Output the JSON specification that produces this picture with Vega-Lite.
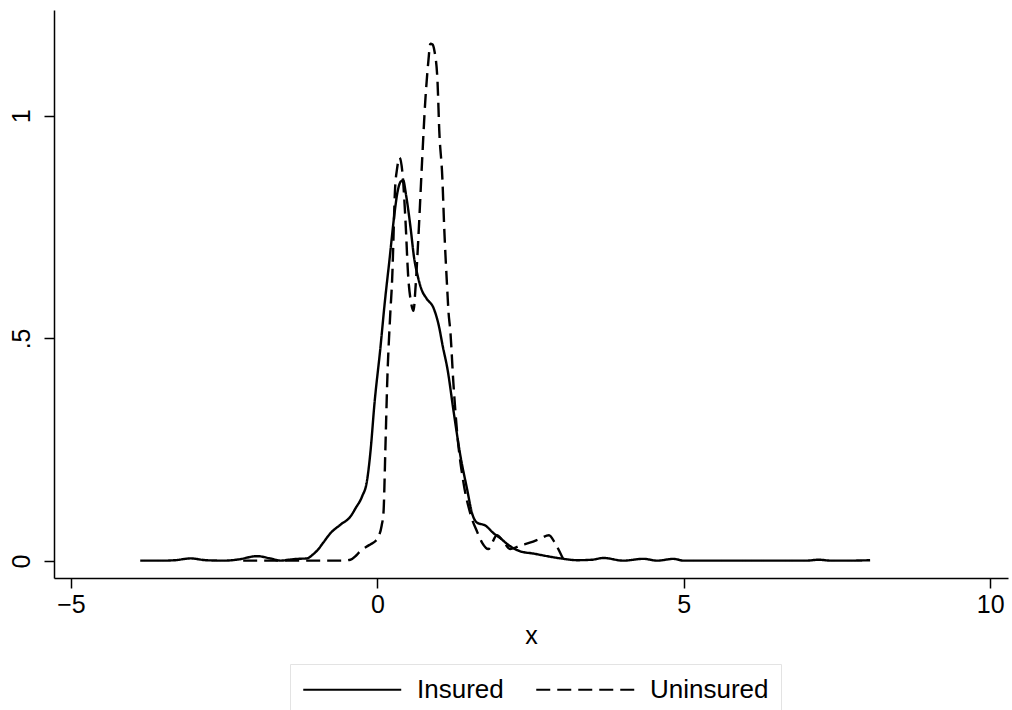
{
  "$schema": "https://vega.github.io/schema/vega-lite/v6.json",
  "width": 954,
  "height": 568,
  "autosize": {"type": "none"},
  "padding": {"left": 54, "top": 10, "right": 4, "bottom": 132},
  "background": "white",
  "config": {
    "view": {"stroke": null},
    "font": "Liberation Sans",
    "axis": {
      "grid": false,
      "domainColor": "black",
      "domainWidth": 1.5,
      "tickColor": "black",
      "tickWidth": 1.5,
      "tickSize": 10,
      "labelColor": "black",
      "labelFont": "Liberation Sans",
      "labelFontSize": 25,
      "titleFont": "Liberation Sans",
      "titleFontSize": 25,
      "titleFontWeight": "normal",
      "titleColor": "black"
    },
    "legend": {
      "labelFont": "Liberation Sans",
      "labelFontSize": 26,
      "labelColor": "black"
    }
  },
  "data": {
    "values": [
      {"x": -3.87, "y": 0.001, "group": "Insured"},
      {"x": -3.5, "y": 0.001, "group": "Insured"},
      {"x": -3.3, "y": 0.002, "group": "Insured"},
      {"x": -3.05, "y": 0.006, "group": "Insured"},
      {"x": -2.8, "y": 0.002, "group": "Insured"},
      {"x": -2.5, "y": 0.001, "group": "Insured"},
      {"x": -2.3, "y": 0.003, "group": "Insured"},
      {"x": -1.96, "y": 0.011, "group": "Insured"},
      {"x": -1.75, "y": 0.006, "group": "Insured"},
      {"x": -1.58, "y": 0.001, "group": "Insured"},
      {"x": -1.45, "y": 0.003, "group": "Insured"},
      {"x": -1.3, "y": 0.005, "group": "Insured"},
      {"x": -1.15, "y": 0.006, "group": "Insured"},
      {"x": -1.05, "y": 0.015, "group": "Insured"},
      {"x": -0.98, "y": 0.024, "group": "Insured"},
      {"x": -0.88, "y": 0.042, "group": "Insured"},
      {"x": -0.77, "y": 0.062, "group": "Insured"},
      {"x": -0.6, "y": 0.082, "group": "Insured"},
      {"x": -0.44, "y": 0.1, "group": "Insured"},
      {"x": -0.35, "y": 0.12, "group": "Insured"},
      {"x": -0.25, "y": 0.145, "group": "Insured"},
      {"x": -0.17, "y": 0.18, "group": "Insured"},
      {"x": -0.11, "y": 0.25, "group": "Insured"},
      {"x": -0.05, "y": 0.35, "group": "Insured"},
      {"x": 0.05, "y": 0.48, "group": "Insured"},
      {"x": 0.12, "y": 0.58, "group": "Insured"},
      {"x": 0.2, "y": 0.68, "group": "Insured"},
      {"x": 0.27, "y": 0.77, "group": "Insured"},
      {"x": 0.33, "y": 0.83, "group": "Insured"},
      {"x": 0.38, "y": 0.852, "group": "Insured"},
      {"x": 0.42, "y": 0.855, "group": "Insured"},
      {"x": 0.47, "y": 0.82, "group": "Insured"},
      {"x": 0.54, "y": 0.75, "group": "Insured"},
      {"x": 0.6, "y": 0.68, "group": "Insured"},
      {"x": 0.65, "y": 0.645, "group": "Insured"},
      {"x": 0.72, "y": 0.61, "group": "Insured"},
      {"x": 0.8, "y": 0.59, "group": "Insured"},
      {"x": 0.92, "y": 0.567, "group": "Insured"},
      {"x": 1.0, "y": 0.53, "group": "Insured"},
      {"x": 1.07, "y": 0.48, "group": "Insured"},
      {"x": 1.14, "y": 0.434, "group": "Insured"},
      {"x": 1.25, "y": 0.33, "group": "Insured"},
      {"x": 1.35, "y": 0.24, "group": "Insured"},
      {"x": 1.46, "y": 0.164, "group": "Insured"},
      {"x": 1.55, "y": 0.105, "group": "Insured"},
      {"x": 1.63, "y": 0.086, "group": "Insured"},
      {"x": 1.76, "y": 0.08, "group": "Insured"},
      {"x": 1.9, "y": 0.062, "group": "Insured"},
      {"x": 2.0, "y": 0.052, "group": "Insured"},
      {"x": 2.15, "y": 0.035, "group": "Insured"},
      {"x": 2.33, "y": 0.022, "group": "Insured"},
      {"x": 2.54, "y": 0.017, "group": "Insured"},
      {"x": 2.77, "y": 0.011, "group": "Insured"},
      {"x": 2.99, "y": 0.006, "group": "Insured"},
      {"x": 3.26, "y": 0.002, "group": "Insured"},
      {"x": 3.5, "y": 0.003, "group": "Insured"},
      {"x": 3.69, "y": 0.007, "group": "Insured"},
      {"x": 4.01, "y": 0.001, "group": "Insured"},
      {"x": 4.34, "y": 0.005, "group": "Insured"},
      {"x": 4.57, "y": 0.001, "group": "Insured"},
      {"x": 4.83, "y": 0.005, "group": "Insured"},
      {"x": 5.0, "y": 0.001, "group": "Insured"},
      {"x": 5.5, "y": 0.001, "group": "Insured"},
      {"x": 6.0, "y": 0.001, "group": "Insured"},
      {"x": 6.5, "y": 0.001, "group": "Insured"},
      {"x": 7.0, "y": 0.001, "group": "Insured"},
      {"x": 7.2, "y": 0.003, "group": "Insured"},
      {"x": 7.4, "y": 0.001, "group": "Insured"},
      {"x": 7.7, "y": 0.001, "group": "Insured"},
      {"x": 8.04, "y": 0.002, "group": "Insured"},
      {"x": -2.19, "y": 0.001, "group": "Uninsured"},
      {"x": -1.5, "y": 0.001, "group": "Uninsured"},
      {"x": -1.0, "y": 0.001, "group": "Uninsured"},
      {"x": -0.6, "y": 0.001, "group": "Uninsured"},
      {"x": -0.44, "y": 0.003, "group": "Uninsured"},
      {"x": -0.35, "y": 0.012, "group": "Uninsured"},
      {"x": -0.28, "y": 0.022, "group": "Uninsured"},
      {"x": -0.18, "y": 0.032, "group": "Uninsured"},
      {"x": -0.11, "y": 0.038, "group": "Uninsured"},
      {"x": -0.03, "y": 0.045, "group": "Uninsured"},
      {"x": 0.02, "y": 0.055, "group": "Uninsured"},
      {"x": 0.07, "y": 0.08, "group": "Uninsured"},
      {"x": 0.1, "y": 0.11, "group": "Uninsured"},
      {"x": 0.13, "y": 0.25, "group": "Uninsured"},
      {"x": 0.16, "y": 0.4, "group": "Uninsured"},
      {"x": 0.21, "y": 0.555, "group": "Uninsured"},
      {"x": 0.24, "y": 0.63, "group": "Uninsured"},
      {"x": 0.29, "y": 0.84, "group": "Uninsured"},
      {"x": 0.32, "y": 0.88, "group": "Uninsured"},
      {"x": 0.36, "y": 0.906, "group": "Uninsured"},
      {"x": 0.41, "y": 0.87, "group": "Uninsured"},
      {"x": 0.46, "y": 0.76, "group": "Uninsured"},
      {"x": 0.5, "y": 0.645, "group": "Uninsured"},
      {"x": 0.55, "y": 0.58, "group": "Uninsured"},
      {"x": 0.59, "y": 0.562, "group": "Uninsured"},
      {"x": 0.62, "y": 0.61, "group": "Uninsured"},
      {"x": 0.67, "y": 0.73, "group": "Uninsured"},
      {"x": 0.73, "y": 0.9, "group": "Uninsured"},
      {"x": 0.78, "y": 1.03, "group": "Uninsured"},
      {"x": 0.83, "y": 1.12, "group": "Uninsured"},
      {"x": 0.865, "y": 1.162, "group": "Uninsured"},
      {"x": 0.9, "y": 1.16, "group": "Uninsured"},
      {"x": 0.93, "y": 1.146, "group": "Uninsured"},
      {"x": 0.98, "y": 1.08, "group": "Uninsured"},
      {"x": 1.01, "y": 0.966, "group": "Uninsured"},
      {"x": 1.06, "y": 0.86, "group": "Uninsured"},
      {"x": 1.09, "y": 0.75, "group": "Uninsured"},
      {"x": 1.14, "y": 0.61, "group": "Uninsured"},
      {"x": 1.16, "y": 0.56, "group": "Uninsured"},
      {"x": 1.19, "y": 0.517, "group": "Uninsured"},
      {"x": 1.24, "y": 0.4, "group": "Uninsured"},
      {"x": 1.3, "y": 0.29, "group": "Uninsured"},
      {"x": 1.4, "y": 0.18, "group": "Uninsured"},
      {"x": 1.52, "y": 0.105, "group": "Uninsured"},
      {"x": 1.63, "y": 0.065, "group": "Uninsured"},
      {"x": 1.71, "y": 0.041, "group": "Uninsured"},
      {"x": 1.81, "y": 0.027, "group": "Uninsured"},
      {"x": 1.95, "y": 0.058, "group": "Uninsured"},
      {"x": 2.05, "y": 0.045, "group": "Uninsured"},
      {"x": 2.17, "y": 0.027, "group": "Uninsured"},
      {"x": 2.33, "y": 0.035, "group": "Uninsured"},
      {"x": 2.5, "y": 0.042, "group": "Uninsured"},
      {"x": 2.65, "y": 0.05, "group": "Uninsured"},
      {"x": 2.8, "y": 0.058, "group": "Uninsured"},
      {"x": 2.9, "y": 0.04, "group": "Uninsured"},
      {"x": 3.03, "y": 0.005, "group": "Uninsured"}
    ]
  },
  "mark": {"type": "line", "color": "black", "strokeWidth": 2.4, "interpolate": "monotone"},
  "encoding": {
    "x": {
      "field": "x",
      "type": "quantitative",
      "scale": {"domain": [-5.277, 10.29], "nice": false, "zero": false},
      "axis": {"values": [-5, 0, 5, 10], "title": "x", "titlePadding": 6, "labelPadding": 4}
    },
    "y": {
      "field": "y",
      "type": "quantitative",
      "scale": {"domain": [-0.038, 1.2375], "nice": false, "zero": false},
      "axis": {
        "values": [0, 0.5, 1],
        "title": null,
        "labelAngle": -90,
        "labelAlign": "center",
        "labelBaseline": "bottom",
        "labelPadding": 10,
        "labelExpr": "datum.value == 0 ? '0' : (datum.value == 1 ? '1' : '.5')"
      }
    },
    "strokeDash": {
      "field": "group",
      "type": "nominal",
      "scale": {"domain": ["Insured", "Uninsured"], "range": [[1, 0], [14, 7]]},
      "legend": {
        "title": null,
        "orient": "none",
        "legendX": 236,
        "legendY": 654,
        "direction": "horizontal",
        "symbolType": "M-1,0L7,0",
        "symbolSize": 600,
        "symbolStrokeWidth": 2,
        "symbolStrokeColor": "black",
        "symbolFillColor": "transparent",
        "labelOffset": 88,
        "columnPadding": 28,
        "padding": 12,
        "strokeColor": "#e3e3e3",
        "fillColor": "white",
        "labelLimit": 300
      }
    }
  }
}
